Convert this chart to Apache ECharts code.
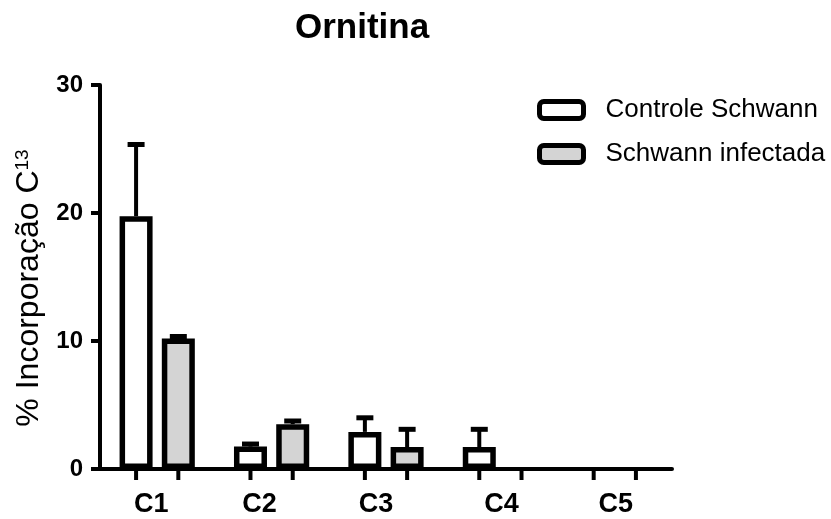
<!DOCTYPE html>
<html><head><meta charset="utf-8">
<script src="https://cdn.jsdelivr.net/npm/echarts@6/dist/echarts.min.js"></script>
<style>html,body{margin:0;padding:0;background:#fff}#chart{width:831px;height:519px}</style>
</head><body><div id="chart"></div>
<script>
// Ornitina: mean 13C incorporation per carbon position, with SEM
const categories = ['C1', 'C2', 'C3', 'C4', 'C5'];
const controleMean = [19.75, 1.75, 2.9, 1.72, 0];
const controleSem = [5.6, 0.2, 1.1, 1.38, 0];
const infectadaMean = [10.2, 3.5, 1.72, 0, 0];
const infectadaSem = [0.15, 0.25, 1.38, 0, 0];
const yTicks = [0, 10, 20, 30];

const BAR_W = 33;
const BAR_GAP = 0.28;
const BORDER = 5.5;
const FONT = '"Liberation Sans", Arial, Helvetica, sans-serif';
// per-label horizontal nudges (px, negative = left)
const labelNudge = [-6, -12, -10, 1, 1];

// zero-height bars get no outline so nothing sits on the axis line
function barData(vals) {
  return vals.map(v => v === 0 ? { value: v, itemStyle: { borderWidth: 0 } } : v);
}
function errData(means, sems) {
  return means.map((m, i) => [i, m, sems[i]]);
}
// error bar (upper half) plus the x-axis tick under each bar
function errorRenderer(side) {
  return function (params, api) {
    const i = api.value(0), m = api.value(1), s = api.value(2);
    const base = api.coord([i, 0]);
    const x = base[0] + side * (BAR_W * (1 + BAR_GAP)) / 2;
    const children = [{
      type: 'line',
      shape: { x1: x, y1: base[1] + 1, x2: x, y2: base[1] + 11 },
      style: { stroke: '#000', lineWidth: 4 }
    }];
    if (s > 0) {
      const yTop = api.coord([i, m + s])[1];
      const yMean = api.coord([i, m])[1];
      children.push({ type: 'line', shape: { x1: x, y1: yMean, x2: x, y2: yTop }, style: { stroke: '#000', lineWidth: 4 } });
      children.push({ type: 'line', shape: { x1: x - 8.5, y1: yTop, x2: x + 8.5, y2: yTop }, style: { stroke: '#000', lineWidth: 5 } });
    }
    return { type: 'group', children };
  };
}

const rich = {};
labelNudge.forEach((d, i) => {
  rich['s' + i] = {
    fontFamily: FONT, fontSize: 27, fontWeight: 'bold', color: '#000',
    padding: d < 0 ? [0, -2 * d, 0, 0] : [0, 0, 0, 2 * d]
  };
});

const chart = echarts.init(document.getElementById('chart'), null, { renderer: 'canvas' });
chart.setOption({
  animation: false,
  backgroundColor: '#fff',
  title: {
    text: 'Ornitina', left: 295, top: 11, padding: 0,
    textStyle: { fontFamily: FONT, fontSize: 35, fontWeight: 'bold', color: '#000' }
  },
  legend: {
    orient: 'vertical', left: 537, top: 97, padding: 0, itemGap: 18,
    itemWidth: 44, itemHeight: 17, icon: 'roundRect',
    itemStyle: { borderWidth: 5, borderColor: '#000' },
    textStyle: { fontFamily: FONT, fontSize: 26, color: '#000', padding: [0, 0, 0, 17] },
    data: ['Controle Schwann', 'Schwann infectada']
  },
  grid: { left: 100, right: 159, top: 85, bottom: 50, containLabel: false, outerBoundsMode: 'none' },
  xAxis: {
    type: 'category', data: categories,
    axisLine: { lineStyle: { color: '#000', width: 4 } },
    axisTick: { show: false },
    axisLabel: {
      interval: 0, margin: 22, color: '#000', fontFamily: FONT, fontSize: 27, fontWeight: 'bold',
      formatter: (v, i) => '{s' + i + '|' + v + '}', rich: rich
    }
  },
  yAxis: {
    type: 'value', min: yTicks[0], max: yTicks[yTicks.length - 1], interval: 10,
    name: '% Incorporação C{sup|13}', nameLocation: 'middle', nameRotate: 90, nameGap: 54,
    nameTextStyle: {
      fontFamily: FONT, fontSize: 32, color: '#000', padding: [0, 22, 0, 0],
      rich: { sup: { fontFamily: FONT, fontSize: 19, color: '#000', verticalAlign: 'top', padding: [0, 0, 14, 0] } }
    },
    axisLine: { show: true, lineStyle: { color: '#000', width: 4 } },
    axisTick: { show: true, length: 9, lineStyle: { color: '#000', width: 4 } },
    axisLabel: { margin: 17, color: '#000', fontFamily: FONT, fontSize: 24, fontWeight: 'bold' },
    splitLine: { show: false }
  },
  series: [
    {
      name: 'Controle Schwann', type: 'bar', barWidth: BAR_W, barGap: (BAR_GAP * 100) + '%',
      itemStyle: { color: '#ffffff', borderColor: '#000', borderWidth: BORDER },
      data: barData(controleMean), z: 3
    },
    {
      name: 'Schwann infectada', type: 'bar', barWidth: BAR_W,
      itemStyle: { color: '#d4d4d4', borderColor: '#000', borderWidth: BORDER },
      data: barData(infectadaMean), z: 3
    },
    {
      type: 'custom', renderItem: errorRenderer(-1), data: errData(controleMean, controleSem),
      encode: { x: 0, y: 1 }, clip: false, z: 2, silent: true
    },
    {
      type: 'custom', renderItem: errorRenderer(1), data: errData(infectadaMean, infectadaSem),
      encode: { x: 0, y: 1 }, clip: false, z: 2, silent: true
    }
  ]
});
</script>
</body></html>
